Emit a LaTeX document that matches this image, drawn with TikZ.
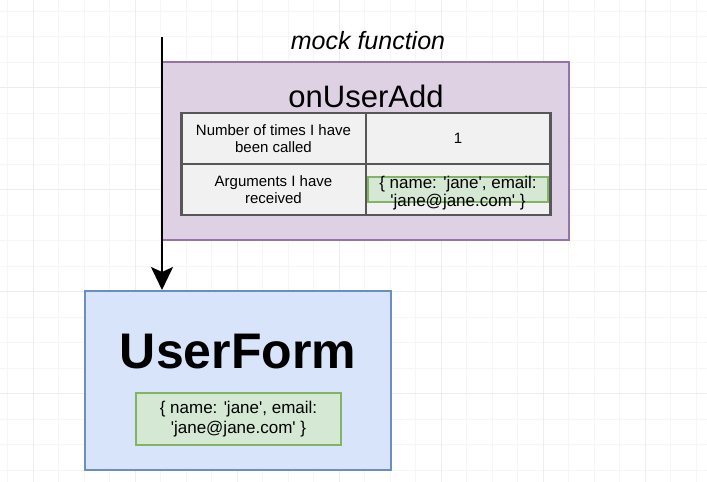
\documentclass[tikz,border=0pt]{standalone}
\usepackage{fontspec}
\setmainfont{Liberation Sans}
\usetikzlibrary{
  arrows.meta,   % arrow tips
  positioning    % relative placement of the table cells
}
\definecolor{gridminor}{HTML}{F6F6F6}
\definecolor{gridmajor}{HTML}{EDEDED}
\definecolor{mockfill}{HTML}{DDD1E3}
\definecolor{mockline}{HTML}{9673A6}
\definecolor{formfill}{HTML}{D8E4FA}
\definecolor{formline}{HTML}{6C8EBF}
\definecolor{datafill}{HTML}{D5E8D4}
\definecolor{dataline}{HTML}{82B366}
\definecolor{cellfill}{HTML}{F1F1F1}
\definecolor{cellline}{HTML}{575757}
\newcommand{\sq}{\textquotesingle}
\tikzset{
  mock box/.style={
    draw=mockline,
    fill=mockfill,
    line width=2pt,
    inner sep=0pt,
    minimum width=407pt,
    minimum height=178pt
  },
  form box/.style={
    draw=formline,
    fill=formfill,
    line width=2pt,
    inner sep=0pt,
    minimum width=306pt,
    minimum height=179pt
  },
  data box/.style={
    draw=dataline,
    fill=datafill,
    line width=2pt,
    inner sep=0pt
  },
  cell/.style={
    draw=cellline,
    fill=cellfill,
    line width=2.5pt,
    inner sep=0pt,
    outer sep=0pt,
    minimum width=184.5pt,
    minimum height=51pt,
    align=center,
    font=\fontsize{15}{17}\selectfont
  },
  data text/.style={
    align=center,
    inner sep=0pt,
    font=\fontsize{17}{18}\selectfont
  },
  call/.style={
    -{Stealth[length=23pt, width=22pt, inset=5pt]},
    line width=2pt,
    black
  }
}

\begin{document}
\begin{tikzpicture}[x=1pt, y=-1pt]

  \useasboundingbox (0,0) rectangle (707,482);
  \fill[white] (0,0) rectangle (707,482);

  % background grid of the canvas
  \foreach \gx in {0,...,27}
    \draw[gridminor, line width=0.8pt] (7.5+25.5*\gx,0) -- (7.5+25.5*\gx,482);
  \foreach \gy in {0,...,18}
    \draw[gridminor, line width=0.8pt] (0,11+25.5*\gy) -- (707,11+25.5*\gy);
  \foreach \gx in {0,...,6}
    \draw[gridmajor, line width=1pt] (33+102*\gx,0) -- (33+102*\gx,482);
  \foreach \gy in {0,...,3}
    \draw[gridmajor, line width=1pt] (0,87.5+102*\gy) -- (707,87.5+102*\gy);

  % the mock function
  \node[mock box] (mock) at (365.5,151) {};
  \node[anchor=base, font=\fontsize{25}{28}\selectfont\itshape]
    (mocklabel) at (368,49) {mock function};
  \node[anchor=base, font=\fontsize{31}{34}\selectfont]
    (mockname) at (366,107) {onUserAdd};

  % table of what the mock remembers
  \node[cell] (callsname) at (273.5,138.5) {Number of times I have\\been called};
  \node[cell, right=0pt of callsname] (callsvalue) {1};
  \node[cell, below=0pt of callsname] (argsname) {Arguments I have\\received};
  \node[cell, right=0pt of argsname] (argsvalue) {};
  \node[data box, minimum width=180pt, minimum height=25pt]
    (argsbox) at (458,189.5) {};
  \node[data text] (argstext) at ([yshift=-4pt]argsvalue.center)
    {\{ name: \sq jane\sq, email:\\\sq jane@jane.com\sq\ \}};

  % the component under test
  \node[form box] (form) at (238,380.5) {};
  \node[anchor=base, font=\fontsize{50}{54}\selectfont\bfseries]
    (formname) at (238,368) {UserForm};
  \node[data box, data text, minimum width=205pt, minimum height=52pt,
        font=\fontsize{17}{20}\selectfont]
    (formdata) at (238.5,419) {\{ name: \sq jane\sq, email:\\\sq jane@jane.com\sq\ \}};

  % the prop handed down
  \coordinate (callstart) at (162,37);
  \draw[call] (callstart) -- (callstart |- form.north);

\end{tikzpicture}
\end{document}
